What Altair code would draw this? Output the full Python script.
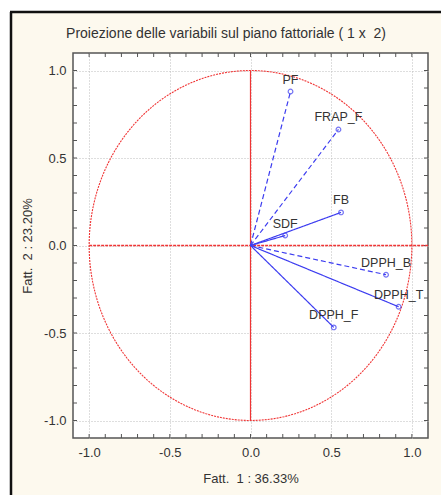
import altair as alt
import pandas as pd

# ---- data ----
variables = ["PF", "FRAP_F", "FB", "SDF", "DPPH_B", "DPPH_T", "DPPH_F"]
fatt1 = [0.248, 0.545, 0.561, 0.215, 0.840, 0.918, 0.516]
fatt2 = [0.880, 0.663, 0.189, 0.057, -0.167, -0.350, -0.468]
styles = ["dashed", "dashed", "solid", "solid", "dashed", "solid", "solid"]

grid_vals = [-1.0, -0.5, 0.0, 0.5, 1.0]
minor_ticks = [-1.0, -0.9, -0.8, -0.7, -0.6, -0.5, -0.4, -0.3, -0.2, -0.1, 0.0,
               0.1, 0.2, 0.3, 0.4, 0.5, 0.6, 0.7, 0.8, 0.9, 1.0]

NB = "\u00a0"
title_text = "Proiezione delle variabili sul piano fattoriale (" + NB + "1 x " + NB + "2)"
x_title = "Fatt." + NB + " 1 : 36.33%"
y_title = "Fatt." + NB + " 2 : 23.20%"

# reference lines: horizontal at 0 from -1 to 1.1, vertical at 0 from -1 to 1
hline_x = [-1.0, 1.1]
hline_y = [0.0, 0.0]
vline_df = pd.DataFrame({"x": [0.0], "y": [-1.0], "y2": [1.0]})

W, H = 355, 385
FONT = "Liberation Sans"
BLUE = "#3c3cf0"
RED = "#f03434"
CREAM = "#fdf9ee"
TXT = "#333333"

rows = []
for v, a, b, s in zip(variables, fatt1, fatt2, styles):
    rows.append({"var": v, "x": 0.0, "y": 0.0, "style": s, "k": 0})
    rows.append({"var": v, "x": a, "y": b, "style": s, "k": 1})
vec_df = pd.DataFrame(rows)
pts_df = pd.DataFrame({"var": variables, "x": fatt1, "y": fatt2})
ticks_df = pd.DataFrame({"v": minor_ticks})
hline_df = pd.DataFrame({"x": hline_x, "y": hline_y})
one = alt.Data(values=[{"a": 1}])

xs = alt.Scale(domain=[-1.1, 1.1], nice=False, zero=False)
ys = alt.Scale(domain=[-1.1, 1.1], nice=False, zero=False)

LBL = "datum.value < 0 ? '-' + format(-datum.value, '.1f') : format(datum.value, '.1f')"

x_axis = alt.Axis(values=grid_vals, labelExpr=LBL, grid=True, gridColor="#bcbcbc",
                  gridDash=[1, 2], gridWidth=1, domain=False, ticks=False,
                  labelFont=FONT, labelFontSize=13, labelColor=TXT,
                  labelPadding=8, title=x_title, titleFont=FONT, titleFontSize=13,
                  titleFontWeight="normal", titleColor=TXT,
                  titleY=44, titleBaseline="alphabetic", titleX=W / 2, zindex=0)
y_axis = alt.Axis(values=grid_vals, labelExpr=LBL, grid=True, gridColor="#bcbcbc",
                  gridDash=[1, 2], gridWidth=1, domain=False, ticks=False,
                  labelFont=FONT, labelFontSize=13, labelColor=TXT,
                  labelPadding=7, title=y_title, titleFont=FONT, titleFontSize=13,
                  titleFontWeight="normal", titleColor=TXT,
                  titleAngle=270, titleX=-45.5, titleY=H / 2,
                  titleBaseline="middle", titleAlign="center", zindex=0)

base = alt.Chart(pts_df).mark_point(opacity=0).encode(
    x=alt.X("x:Q", scale=xs, axis=x_axis),
    y=alt.Y("y:Q", scale=ys, axis=y_axis),
)

# decorative page background / frame (outside the plot)
white_top = alt.Chart(one).mark_rect(color="white").encode(
    x=alt.value(-73), x2=alt.value(368), y=alt.value(-53), y2=alt.value(-41))
white_left = alt.Chart(one).mark_rect(color="white").encode(
    x=alt.value(-73), x2=alt.value(-63), y=alt.value(-53), y2=alt.value(442))
frame_top = alt.Chart(one).mark_rule(color="#111111", strokeWidth=2.5).encode(
    x=alt.value(-63), x2=alt.value(368), y=alt.value(-41))
frame_left = alt.Chart(one).mark_rule(color="#111111", strokeWidth=2.5).encode(
    x=alt.value(-62), y=alt.value(-41), y2=alt.value(442))

# chart title as a text mark above the plot
title_mark = alt.Chart(one).mark_text(
    font=FONT, fontSize=14, color=TXT, align="center", baseline="middle"
).encode(x=alt.value(153), y=alt.value(-19), text=alt.value(title_text))

# inward minor ticks on all four sides
tk = dict(color="#555555", strokeWidth=1)
t_bottom = alt.Chart(ticks_df).mark_rule(**tk).encode(
    x=alt.X("v:Q", scale=xs), y=alt.value(H), y2=alt.value(H - 4))
t_top = alt.Chart(ticks_df).mark_rule(**tk).encode(
    x=alt.X("v:Q", scale=xs), y=alt.value(0), y2=alt.value(4))
t_left = alt.Chart(ticks_df).mark_rule(**tk).encode(
    y=alt.Y("v:Q", scale=ys), x=alt.value(0), x2=alt.value(4))
t_right = alt.Chart(ticks_df).mark_rule(**tk).encode(
    y=alt.Y("v:Q", scale=ys), x=alt.value(W), x2=alt.value(W - 4))

# unit circle (computed inside Vega)
circle = alt.Chart(alt.sequence(0, 362, 2, as_="deg")).transform_calculate(
    cx="cos(datum.deg*PI/180)", cy="sin(datum.deg*PI/180)"
).mark_line(color=RED, strokeWidth=1.1, strokeDash=[2, 1]).encode(
    x=alt.X("cx:Q", scale=xs), y=alt.Y("cy:Q", scale=ys), order="deg:Q")

vline = alt.Chart(vline_df).mark_rule(color=RED, strokeWidth=1.2).encode(
    x=alt.X("x:Q", scale=xs), y=alt.Y("y:Q", scale=ys), y2="y2:Q")
hline = alt.Chart(hline_df).mark_line(color=RED, strokeWidth=1.3,
                                      strokeDash=[3, 1]).encode(
    x=alt.X("x:Q", scale=xs), y=alt.Y("y:Q", scale=ys))

vectors = alt.Chart(vec_df).mark_line(color=BLUE, strokeWidth=1.2).encode(
    x=alt.X("x:Q", scale=xs), y=alt.Y("y:Q", scale=ys),
    detail="var:N", order="k:Q",
    strokeDash=alt.StrokeDash("style:N",
                              scale=alt.Scale(domain=["solid", "dashed"],
                                              range=[[1, 0], [5, 3]]),
                              legend=None))

points = alt.Chart(pts_df).mark_point(shape="circle", size=22, filled=False,
                                      color=BLUE, strokeWidth=1.2).encode(
    x=alt.X("x:Q", scale=xs), y=alt.Y("y:Q", scale=ys))

labels = alt.Chart(pts_df).mark_text(font=FONT, fontSize=12.5, color=TXT,
                                     align="center", baseline="alphabetic",
                                     dy=-8).encode(
    x=alt.X("x:Q", scale=xs), y=alt.Y("y:Q", scale=ys), text="var:N")

chart = alt.layer(
    white_top, white_left, frame_top, frame_left, title_mark,
    base, t_bottom, t_top, t_left, t_right,
    circle, hline, vline, vectors, points, labels
).properties(
    width=W, height=H,
    autosize=alt.AutoSizeParams(type="none"),
    padding={"left": 73, "top": 53, "right": 13, "bottom": 57},
    background=CREAM,
).configure_view(
    fill="white", stroke="#555555", strokeWidth=1.5
)

chart.save("out.html", embed_options={"renderer": "svg", "actions": False})
